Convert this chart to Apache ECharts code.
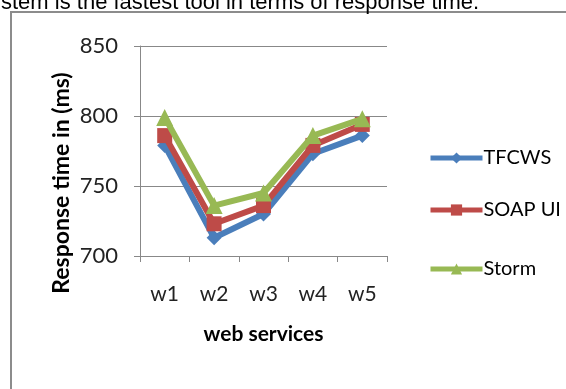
<!DOCTYPE html>
<html>
<head>
<meta charset="utf-8">
<script src="https://cdn.jsdelivr.net/npm/echarts@6/dist/echarts.min.js"></script>
<style>
  html, body { margin: 0; padding: 0; background: #fff; }
  #chart { width: 566px; height: 389px; }
</style>
</head>
<body>
<div id="chart"></div>
<script>
var categories = ["w1", "w2", "w3", "w4", "w5"];
var tfcws = [779, 713, 730, 773, 786];
var soapUi = [786, 723, 736, 779, 794];
var storm = [799, 736, 745, 786, 798];
var seriesNames = ["TFCWS", "SOAP UI", "Storm"];
var legendTops = [143, 195, 254];

var font = "Lato, 'Open Sans', sans-serif";

var legends = seriesNames.map(function (name, i) {
  return {
    orient: "vertical",
    left: 423,
    top: legendTops[i],
    itemWidth: 52,
    itemHeight: 14,
    lineStyle: { width: 5 },
    textStyle: { fontFamily: font, fontSize: 20, color: "#000", padding: [0, 0, 0, -4] },
    data: [name]
  };
});

var chart = echarts.init(document.getElementById("chart"));
var option = {
  backgroundColor: "#fff",
  animation: false,
  grid: { left: 140, right: 179, top: 46, bottom: 133 },
  legend: legends,
  graphic: [
    {
      type: "rect",
      shape: { x: 11, y: 12, width: 570, height: 390 },
      style: { fill: "none", stroke: "#8c8c8c", lineWidth: 2 }
    },
    {
      type: "text",
      x: 1,
      y: 14,
      style: { text: "stem is the fastest tool in terms of response time.", fontFamily: "'Liberation Sans', Arial, sans-serif", fontSize: 22, fill: "#000", verticalAlign: "bottom" }
    },
    {
      type: "text",
      x: 62,
      y: 183,
      rotation: Math.PI / 2,
      style: { text: "Response time in (ms)", fontFamily: font, fontSize: 23, fontWeight: "bold", fill: "#000", align: "center", verticalAlign: "middle" }
    }
  ],
  xAxis: {
    type: "category",
    data: categories,
    boundaryGap: true,
    name: "web services",
    nameLocation: "middle",
    nameGap: 68,
    nameTextStyle: { fontFamily: font, fontSize: 21, fontWeight: "bold", color: "#000" },
    axisLine: { lineStyle: { color: "#888", width: 1 } },
    axisTick: { show: true, alignWithLabel: false, length: 6, lineStyle: { color: "#888" } },
    axisLabel: { fontFamily: font, fontSize: 21, color: "#222", margin: 28 }
  },
  yAxis: {
    type: "value",
    min: 700,
    max: 850,
    interval: 50,
    axisLine: { show: true, lineStyle: { color: "#888", width: 1 } },
    axisTick: { show: true, length: 6, inside: false, lineStyle: { color: "#888" } },
    splitLine: { lineStyle: { color: "#888", width: 1 } },
    axisLabel: { fontFamily: font, fontSize: 22, color: "#222", margin: 22 }
  },
  series: [
    {
      name: "TFCWS",
      type: "line",
      data: tfcws,
      symbol: "diamond",
      symbolSize: 15,
      color: "#4a7ebb",
      lineStyle: { width: 6 },
      z: 2
    },
    {
      name: "SOAP UI",
      type: "line",
      data: soapUi,
      symbol: "rect",
      symbolSize: 15,
      color: "#be4b48",
      lineStyle: { width: 6 },
      z: 3
    },
    {
      name: "Storm",
      type: "line",
      data: storm,
      symbol: "triangle",
      symbolSize: 17,
      color: "#98b954",
      lineStyle: { width: 6 },
      z: 4
    }
  ]
};
chart.setOption(option);
</script>
</body>
</html>
